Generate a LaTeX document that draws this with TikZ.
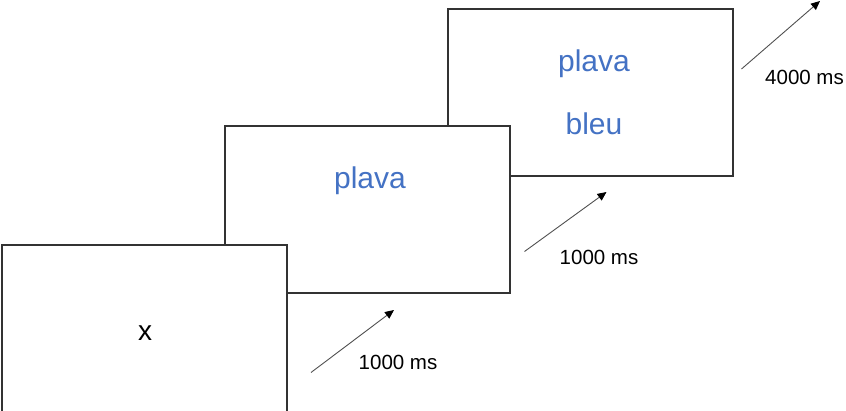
\documentclass[tikz,border=0pt]{standalone}
\usepackage{fontspec}
\setmainfont{Liberation Sans}
\usetikzlibrary{arrows.meta}
\definecolor{wordblue}{HTML}{4472C4}
\definecolor{frame}{HTML}{333333}
\definecolor{arrowgray}{HTML}{505050}
\begin{document}
\begin{tikzpicture}[x=1pt,y=-1pt,
  screen/.style={draw=frame,line width=1.5pt,fill=white,rectangle,minimum width=285pt,minimum height=167pt,inner sep=0pt},
  word/.style={text=wordblue,font=\fontsize{30}{36}\selectfont,anchor=base,inner sep=0pt},
  fixation/.style={text=black,font=\fontsize{28}{34}\selectfont,anchor=base,inner sep=0pt},
  timelabel/.style={text=black,font=\fontsize{20.5}{25}\selectfont,anchor=base west,inner sep=0pt},
  timearrow/.style={draw=arrowgray,line width=0.9pt,-{Triangle[length=9pt,width=8pt,color=black]}}
]
\useasboundingbox (0,0) rectangle (846,411);
% screens, back to front
\node[screen] (s3) at (590.5,92.5) {};
\node[screen] (s2) at (367.5,209.5) {};
\node[screen] (s1) at (144.5,328.5) {};
% texts
\node[fixation] (fx) at (145,341) {x};
\node[word] (w2) at (370,189) {plava};
\node[word] (w3a) at (594,72) {plava};
\node[word] (w3b) at (594,135) {bleu};
% arrows
\coordinate (a1s) at (311,372.5);
\coordinate (a1e) at (394,310);
\coordinate (a2s) at (524.5,251.5);
\coordinate (a2e) at (606.5,192);
\coordinate (a3s) at (741.5,69);
\coordinate (a3e) at (820,1);
\draw[timearrow] (a1s) -- (a1e);
\draw[timearrow] (a2s) -- (a2e);
\draw[timearrow] (a3s) -- (a3e);
% labels
\node[timelabel] (t1) at (358.5,369.5) {1000 ms};
\node[timelabel] (t2) at (559.5,264.5) {1000 ms};
\node[timelabel] (t3) at (765,85) {4000 ms};
\end{tikzpicture}
\end{document}
